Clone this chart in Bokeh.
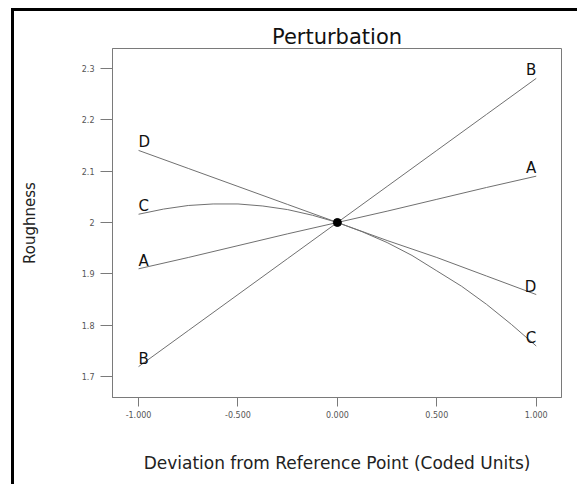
from bokeh.plotting import figure
from bokeh.models import FixedTicker, Range1d
from bokeh.core.properties import value
from bokeh.embed import file_html
from bokeh.resources import INLINE

# ---- data ----
x_dev = [-1.0, -0.75, -0.5, -0.25, 0.0, 0.25, 0.5, 0.75, 1.0]
rough_A = [1.910, 1.932, 1.955, 1.978, 2.000, 2.022, 2.045, 2.068, 2.090]
rough_B = [1.720, 1.790, 1.860, 1.930, 2.000, 2.070, 2.140, 2.210, 2.280]
rough_D = [2.140, 2.105, 2.070, 2.035, 2.000, 1.965, 1.932, 1.896, 1.860]
x_dev_c = [-1.0, -0.875, -0.75, -0.625, -0.5, -0.375, -0.25, -0.125, 0.0,
           0.125, 0.25, 0.375, 0.5, 0.625, 0.75, 0.875, 1.0]
rough_C = [2.016, 2.026, 2.033, 2.036, 2.036, 2.032, 2.025, 2.014, 2.000,
           1.982, 1.961, 1.936, 1.906, 1.876, 1.841, 1.802, 1.760]
series_names = ["A", "B", "C", "D"]
ref_x = [0.0]
ref_y = [2.0]
x_ticks = [-1.0, -0.5, 0.0, 0.5, 1.0]
x_tick_labels = ["-1.000", "-0.500", "0.000", "0.500", "1.000"]
y_ticks = [1.7, 1.8, 1.9, 2.0, 2.1, 2.2, 2.3]
y_tick_labels = ["1.7", "1.8", "1.9", "2", "2.1", "2.2", "2.3"]

FONT = "DejaVu Sans"
GREY = "#7a7a7a"

p = figure(width=566, height=476, output_backend="svg", toolbar_location=None,
           x_range=Range1d(-1.131, 1.127), y_range=Range1d(1.66, 2.338),
           min_border_left=98, min_border_right=19, min_border_top=37, min_border_bottom=90,
           title="Perturbation")
p.styles = {"border-top": "3px solid black", "border-left": "3px solid black",
            "margin-left": "11px", "margin-top": "8px"}

p.title.text_font = FONT
p.title.text_font_size = "21px"
p.title.text_font_style = "normal"
p.title.text_color = "#111111"
p.title.align = "center"
p.title.standoff = 0

p.grid.visible = False
p.outline_line_color = GREY
p.outline_line_width = 1

p.xaxis.ticker = FixedTicker(ticks=x_ticks)
p.xaxis.major_label_overrides = dict(zip(x_ticks, x_tick_labels))
p.yaxis.ticker = FixedTicker(ticks=y_ticks)
p.yaxis.major_label_overrides = dict(zip(y_ticks, y_tick_labels))

for ax in (p.xaxis[0], p.yaxis[0]):
    ax.axis_line_color = GREY
    ax.major_tick_line_color = GREY
    ax.minor_tick_line_color = None
    ax.major_tick_in = 0
    ax.major_label_text_font = FONT
    ax.major_label_text_font_size = "8px"
    ax.major_label_text_color = "#555555"
    ax.axis_label_text_font = FONT
    ax.axis_label_text_font_style = "normal"
    ax.axis_label_text_color = "#222222"

p.xaxis.major_tick_out = 9
p.xaxis.major_label_standoff = 4
p.xaxis.axis_label = "Deviation from Reference Point (Coded Units)"
p.xaxis.axis_label_text_font_size = "17px"
p.xaxis.axis_label_standoff = 32

p.yaxis.major_tick_out = 12
p.yaxis.major_label_standoff = 6
p.yaxis.axis_label = "Roughness"
p.yaxis.axis_label_text_font_size = "15px"
p.yaxis.axis_label_standoff = 40

LINE = "#707070"
p.line(x_dev, rough_A, line_color=LINE, line_width=1)
p.line(x_dev, rough_B, line_color=LINE, line_width=1)
p.line(x_dev_c, rough_C, line_color=LINE, line_width=1)
p.line(x_dev, rough_D, line_color=LINE, line_width=1)

p.scatter(ref_x, ref_y, size=8, color="black")

all_series = [rough_A, rough_B, rough_C, rough_D]
left_y = [s[0] for s in all_series]
right_y = [s[-1] for s in all_series]
p.text(x=[x_dev[0]] * len(series_names), y=left_y, text=series_names,
       text_align="left", text_baseline="middle", y_offset=-8,
       text_font=value(FONT), text_font_size="15px", text_color="#111111")
p.text(x=[x_dev[-1]] * len(series_names), y=right_y, text=series_names,
       text_align="right", text_baseline="middle", y_offset=-8,
       text_font=value(FONT), text_font_size="15px", text_color="#111111")

open("out.html", "w").write(file_html(p, INLINE))
